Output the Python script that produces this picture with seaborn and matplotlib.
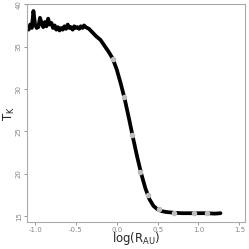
import matplotlib
matplotlib.use("Agg")
import matplotlib.pyplot as plt
import seaborn as sns
import pandas as pd

# curve data
log_r = [-1.08, -1.06, -1.04, -1.02, -1.00, -0.98, -0.96, -0.94, -0.92, -0.90,
         -0.88, -0.86, -0.84, -0.82, -0.80, -0.78, -0.76, -0.74, -0.72, -0.70,
         -0.68, -0.66, -0.64, -0.62, -0.60, -0.58, -0.56, -0.54, -0.52, -0.50,
         -0.48, -0.46, -0.44, -0.42, -0.40, -0.38, -0.36, -0.34, -0.32, -0.30,
         -0.28, -0.25, -0.20, -0.15, -0.10, -0.05, 0.00, 0.05, 0.10, 0.15,
         0.20, 0.25, 0.30, 0.35, 0.40, 0.45, 0.50, 0.55, 0.60, 0.70,
         0.80, 0.90, 1.00, 1.10, 1.20, 1.27]
temp_k = [37.0, 37.6, 37.2, 39.2, 37.6, 37.2, 37.3, 38.4, 37.8, 37.3,
          37.9, 37.4, 38.3, 37.6, 37.8, 37.2, 37.5, 37.0, 37.3, 36.9,
          37.2, 37.0, 37.4, 37.1, 37.6, 37.2, 37.3, 37.0, 37.4, 37.2,
          37.3, 37.1, 37.4, 37.2, 37.5, 37.3, 37.2, 37.1, 36.9, 36.7,
          36.5, 36.2, 35.8, 35.1, 34.4, 33.6, 32.3, 30.6, 28.7, 26.5,
          24.2, 22.0, 20.0, 18.3, 17.0, 16.2, 15.8, 15.6, 15.5, 15.4,
          15.35, 15.35, 15.35, 15.35, 15.3, 15.35]

# marker points
marker_x = [-0.044, 0.09, 0.19, 0.29, 0.385, 0.52, 0.70, 0.94, 1.10]
marker_y = [33.5, 29.0, 24.6, 20.2, 17.5, 15.8, 15.35, 15.35, 15.35]

x_ticks = [-1.0, -0.5, 0.0, 0.5, 1.0, 1.5]
y_ticks = [15, 20, 25, 30, 35, 40]

sns.set_style("white")
plt.rcParams['font.family'] = ['DejaVu Sans']

fig = plt.figure(figsize=(2.49, 2.49), dpi=100)
ax = fig.add_axes([0.108, 0.108, 0.876, 0.875])

df = pd.DataFrame({"x": log_r, "y": temp_k})
sns.lineplot(data=df, x="x", y="y", ax=ax, color="black", linewidth=2.7, sort=False)
dm = pd.DataFrame({"x": marker_x, "y": marker_y})
sns.scatterplot(data=dm, x="x", y="y", ax=ax, color="#bdbdbd", s=16, linewidth=0, zorder=5)

ax.set_xlim(-1.1, 1.57)
ax.set_ylim(14.3, 40.0)
ax.set_xticks(x_ticks)
ax.set_xticklabels([f"{v:.1f}" for v in x_ticks])
ax.set_yticks(y_ticks)
ax.set_yticklabels([str(v) for v in y_ticks], rotation=90, va="center")
ax.tick_params(axis="both", labelsize=5, colors="#888888", length=2.5, width=0.6, pad=1.2,
               direction="out", bottom=True, left=True)
for sp in ax.spines.values():
    sp.set_color("#aaaaaa")
    sp.set_linewidth(0.8)

ax.set_xlabel(r"log(R$_{\mathrm{AU}}$)", fontsize=8.5)
ax.xaxis.set_label_coords(0.5, -0.035)
ax.set_ylabel(r"T$_{\mathrm{K}}$", fontsize=8.5)
ax.yaxis.set_label_coords(-0.045, 0.5)

fig.savefig("out.png", dpi=100)
